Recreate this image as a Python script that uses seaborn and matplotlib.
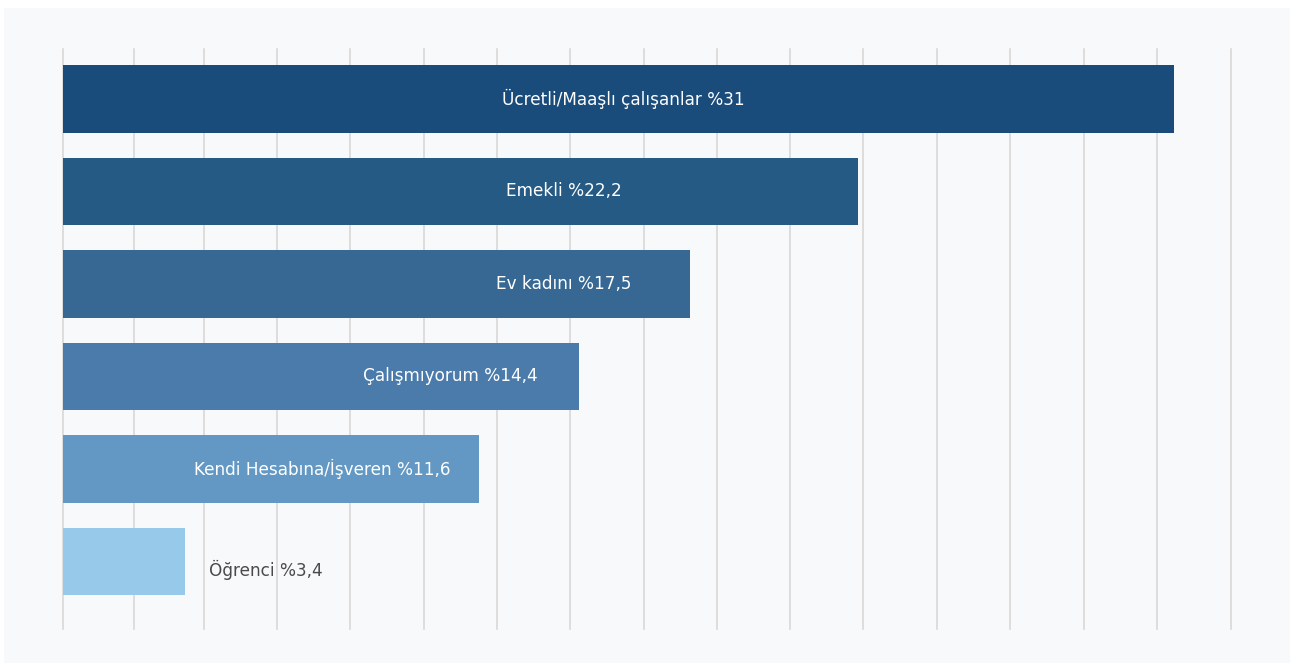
import matplotlib
matplotlib.use("Agg")
import matplotlib.pyplot as plt
import seaborn as sns
import pandas as pd
import numpy as np
from matplotlib.patches import Rectangle

# ---- data ----
categories = ["Ücretli/Maaşlı çalışanlar", "Emekli", "Ev kadını",
              "Çalışmıyorum", "Kendi Hesabına/İşveren", "Öğrenci"]
values = [31, 22.2, 17.5, 14.4, 11.6, 3.4]
value_labels = ["31", "22,2", "17,5", "14,4", "11,6", "3,4"]

# ---- styling / layout ----
colors = ["#194b7b", "#245a84", "#366893", "#4a7bab", "#6298c3", "#97c9eb"]
label_x = [15.63, 13.98, 13.99, 10.8, 7.23, 5.66]
label_colors = ["white"] * 5 + ["#4a4a4a"]
label_dy = [0, 0, 0, 0, 0, 0.09]
grid_x = [0, 1.98, 3.93, 5.97, 8.02, 10.08, 12.11, 14.16, 16.21, 18.24,
          20.29, 22.34, 24.39, 26.44, 28.49, 30.54, 32.59]

W, H = 1301, 664
fig = plt.figure(figsize=(W / 100, H / 100), dpi=100)
fig.patch.set_facecolor("white")
fig.patches.append(Rectangle((4 / W, 1 - 663 / H), (1290 - 4) / W, (663 - 8) / H,
                             transform=fig.transFigure, facecolor="#f8f9fb",
                             edgecolor="none", zorder=-10))

ax = fig.add_axes([63 / W, 1 - 629 / H, (1231 - 63) / W, (629 - 49) / H])
ax.set_facecolor("none")

df = pd.DataFrame({"cat": categories, "val": values})
sns.barplot(data=df, x="val", y="cat", hue="cat", palette=colors, orient="h",
            width=0.73, legend=False, ax=ax, saturation=1, zorder=3)

ax.set_xlim(0, 32.6)
ax.set_ylim(5.73, -0.54)
ax.set_xticks(grid_x)
ax.xaxis.grid(True, color="#d9d8d6", linewidth=1.2, zorder=0)
for gl in ax.get_xgridlines():
    gl.set_clip_on(False)
ax.yaxis.grid(False)
ax.set_axisbelow(True)
ax.tick_params(length=0, labelbottom=False, labelleft=False)
ax.set_xlabel("")
ax.set_ylabel("")
for s in ax.spines.values():
    s.set_visible(False)

for i, (cat, lab) in enumerate(zip(categories, value_labels)):
    ax.text(label_x[i], i + label_dy[i], f"{cat} %{lab}", ha="center", va="center",
            color=label_colors[i], fontsize=12.2, family=["DejaVu Sans"],
            zorder=5)

fig.savefig("out.png", dpi=100)
